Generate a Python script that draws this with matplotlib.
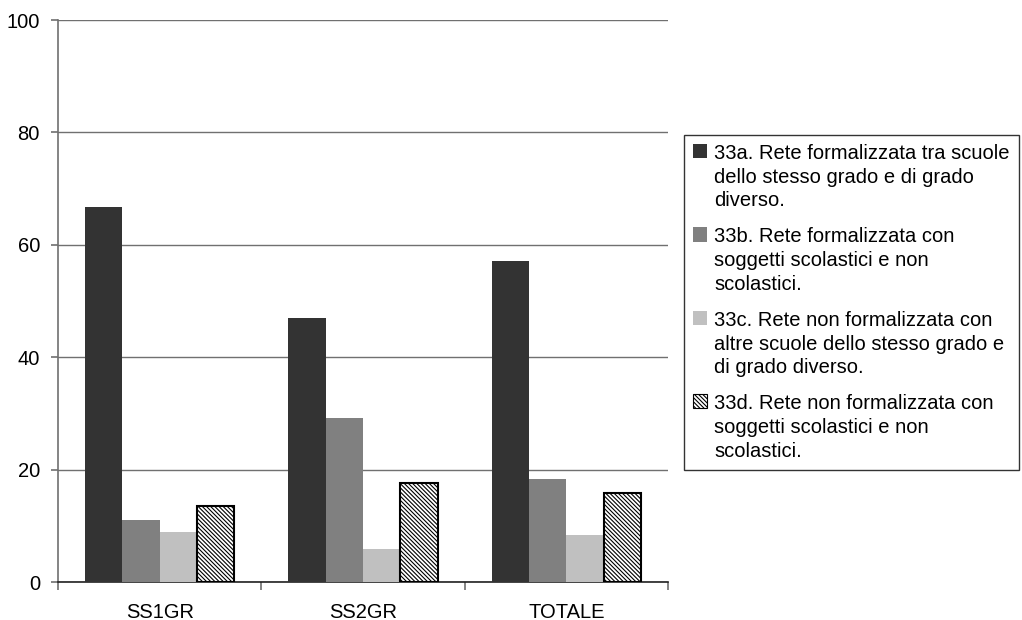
import matplotlib
matplotlib.use("Agg")
import matplotlib.pyplot as plt
import numpy as np

plt.rcParams["font.family"] = ["Liberation Sans", "DejaVu Sans"]
plt.rcParams["hatch.linewidth"] = 0.8

categories = ["SS1GR", "SS2GR", "TOTALE"]
series_labels = [
    "33a. Rete formalizzata tra scuole\ndello stesso grado e di grado\ndiverso.",
    "33b. Rete formalizzata con\nsoggetti scolastici e non\nscolastici.",
    "33c. Rete non formalizzata con\naltre scuole dello stesso grado e\ndi grado diverso.",
    "33d. Rete non formalizzata con\nsoggetti scolastici e non\nscolastici.",
]
v33a = [66.7, 47.0, 57.1]
v33b = [11.0, 29.2, 18.3]
v33c = [8.9, 5.8, 8.4]
v33d = [13.5, 17.7, 15.8]
yticks = [0, 20, 40, 60, 80, 100]

series = [v33a, v33b, v33c, v33d]
styles = [
    dict(color="#333333"),
    dict(color="#808080"),
    dict(color="#c0c0c0"),
    dict(facecolor="white", edgecolor="black", hatch="\\" * 8, linewidth=1.5),
]

fig = plt.figure(figsize=(10.22, 6.2), dpi=100)
ax = fig.add_axes([58 / 1022, 1 - 582 / 620, 610 / 1022, 562 / 620])

fs = 14.5
centers = np.arange(len(categories)) + 0.5
bw = 0.184
offsets = (np.arange(4) - 1.5) * bw
handles = []
for vals, off, st, lab in zip(series, offsets, styles, series_labels):
    b = ax.bar(centers + off, vals, width=bw, label=lab, zorder=3, **st)
    handles.append(b)

ax.set_xlim(0, 3)
ax.set_ylim(0, 100)
ax.set_yticks(yticks)
ax.set_yticklabels([str(t) for t in yticks], fontsize=fs)
ax.yaxis.grid(True, color="#707070", linewidth=1.0, zorder=0)
ax.set_axisbelow(True)

# category boundaries carry the tick marks, names sit between them
ax.set_xticks([0, 1, 2, 3])
ax.set_xticklabels([])
ax.set_xticks(centers, minor=True)
ax.set_xticklabels(categories, minor=True, fontsize=fs)
ax.tick_params(axis="x", which="major", length=6, width=1.2, color="#707070", direction="out")
ax.tick_params(axis="x", which="minor", length=0, pad=15)
ax.tick_params(axis="y", length=5, width=1.2, color="#707070", pad=8)

for s in ["top", "right"]:
    ax.spines[s].set_visible(False)
ax.spines["left"].set_color("#707070")
ax.spines["left"].set_linewidth(1.2)
ax.spines["bottom"].set_color("#222222")
ax.spines["bottom"].set_linewidth(1.2)

leg = fig.legend(
    handles=handles,
    loc="upper left",
    bbox_to_anchor=(684 / 1022, 1 - 135 / 620),
    fontsize=fs,
    frameon=True,
    fancybox=False,
    shadow=False,
    borderaxespad=0,
    borderpad=0.45,
    handlelength=0.7,
    handleheight=0.7,
    handletextpad=0.35,
    labelspacing=0.85,
)
leg.get_frame().set_edgecolor("black")
leg.get_frame().set_linewidth(1.0)
for t in leg.get_texts():
    t.set_linespacing(1.31)
# put each swatch beside the first line of its label
for column in leg._legend_handle_box.get_children():
    for item in column.get_children():
        item.align = "top"
for h in leg.legend_handles:
    h.set_linewidth(0.8)

fig.savefig("out.png", dpi=100, facecolor="white")
